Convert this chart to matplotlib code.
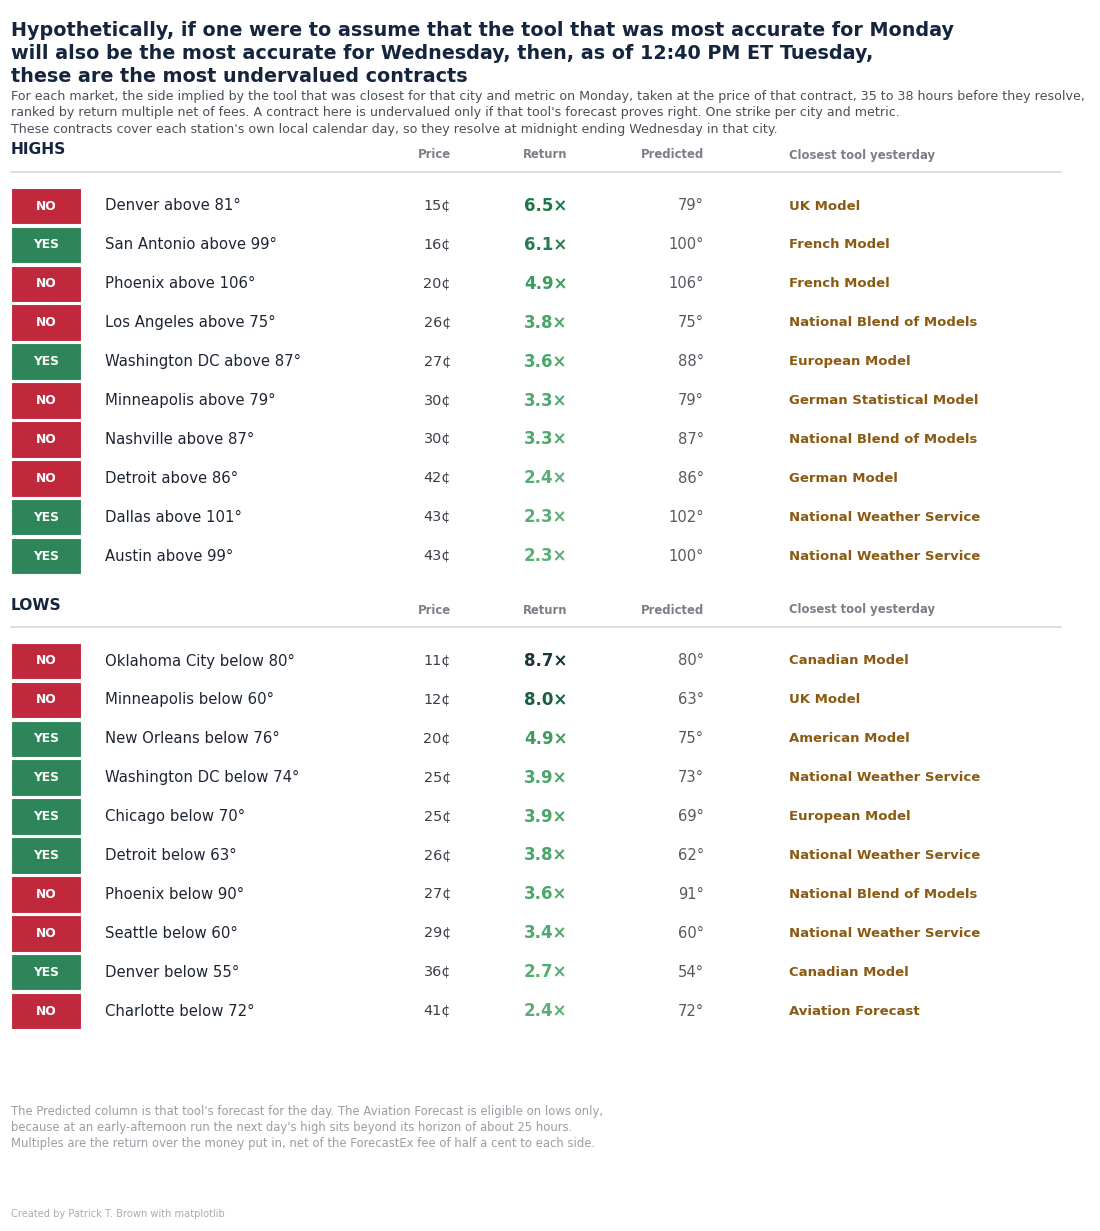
import matplotlib
matplotlib.use("Agg")
import matplotlib.pyplot as plt
from matplotlib.colors import LinearSegmentedColormap, Normalize

# ---------------- data ----------------
high_sides = ["NO", "YES", "NO", "NO", "YES", "NO", "NO", "NO", "YES", "YES"]
high_markets = ["Denver above 81°", "San Antonio above 99°", "Phoenix above 106°",
                "Los Angeles above 75°", "Washington DC above 87°", "Minneapolis above 79°",
                "Nashville above 87°", "Detroit above 86°", "Dallas above 101°", "Austin above 99°"]
high_prices = [15, 16, 20, 26, 27, 30, 30, 42, 43, 43]
high_returns = [6.5, 6.1, 4.9, 3.8, 3.6, 3.3, 3.3, 2.4, 2.3, 2.3]
high_predicted = [79, 100, 106, 75, 88, 79, 87, 86, 102, 100]
high_tools = ["UK Model", "French Model", "French Model", "National Blend of Models",
              "European Model", "German Statistical Model", "National Blend of Models",
              "German Model", "National Weather Service", "National Weather Service"]

low_sides = ["NO", "NO", "YES", "YES", "YES", "YES", "NO", "NO", "YES", "NO"]
low_markets = ["Oklahoma City below 80°", "Minneapolis below 60°", "New Orleans below 76°",
               "Washington DC below 74°", "Chicago below 70°", "Detroit below 63°",
               "Phoenix below 90°", "Seattle below 60°", "Denver below 55°", "Charlotte below 72°"]
low_prices = [11, 12, 20, 25, 25, 26, 27, 29, 36, 41]
low_returns = [8.7, 8.0, 4.9, 3.9, 3.9, 3.8, 3.6, 3.4, 2.7, 2.4]
low_predicted = [80, 63, 75, 73, 69, 62, 91, 60, 54, 72]
low_tools = ["Canadian Model", "UK Model", "American Model", "National Weather Service",
             "European Model", "National Weather Service", "National Blend of Models",
             "National Weather Service", "Canadian Model", "Aviation Forecast"]

col_headers = ["Price", "Return", "Predicted", "Closest tool yesterday"]

title = ("Hypothetically, if one were to assume that the tool that was most accurate for Monday\n"
         "will also be the most accurate for Wednesday, then, as of 12:40 PM ET Tuesday,\n"
         "these are the most undervalued contracts")
subtitle = ("For each market, the side implied by the tool that was closest for that city and metric on Monday, "
            "taken at the price of that contract, 35 to 38 hours before they resolve,\n"
            "ranked by return multiple net of fees. A contract here is undervalued only if that tool's "
            "forecast proves right. One strike per city and metric.\n"
            "These contracts cover each station's own local calendar day, so they resolve at midnight "
            "ending Wednesday in that city.")
footnote = ("The Predicted column is that tool's forecast for the day. The Aviation Forecast is eligible on lows only,\n"
            "because at an early-afternoon run the next day's high sits beyond its horizon of about 25 hours.\n"
            "Multiples are the return over the money put in, net of the ForecastEx fee of half a cent to each side.")
credit = "Created by Patrick T. Brown with matplotlib"

# ---------------- style ----------------
W, H = 1100, 1231
NAVY = "#15253d"
RED = "#c0283b"
GREEN = "#2e8559"
TOOL = "#8a5a12"
GREY_HDR = "#7a7f87"
ROW_PX = 38.9

ret_cmap = LinearSegmentedColormap.from_list(
    "ret", [(0.0, "#5cb077"), (0.35, "#45a265"), (0.5, "#36955a"),
            (0.62, "#1f7b47"), (0.85, "#1b6d40"), (1.0, "#17303a")])
ret_norm = Normalize(vmin=2.0, vmax=8.8)

fig = plt.figure(figsize=(W / 100, H / 100), dpi=100)
fig.patch.set_facecolor("white")


def fy(px):
    return 1 - px / H


def fx(px):
    return px / W


fig.text(fx(11), fy(21), title, fontsize=13.8, fontweight="bold", color=NAVY,
         va="top", ha="left", linespacing=1.26)
fig.text(fx(11), fy(90), subtitle, fontsize=9.1, color="#4a4f57",
         va="top", ha="left", linespacing=1.34)
fig.text(fx(11), fy(1105), footnote, fontsize=8.35, color="#9a9ea4",
         va="top", ha="left", linespacing=1.3)
fig.text(fx(11), fy(1209), credit, fontsize=7.15, color="#a8acb2",
         va="top", ha="left")


def draw_table(top_px, label, sides, markets, prices, returns, predicted, tools):
    # section label and header row
    fig.text(fx(11), fy(top_px), label, fontsize=11.2, fontweight="bold",
             color=NAVY, va="center", ha="left")
    hdr_y = fy(top_px + 5)
    hs = 8.4
    fig.text(fx(451), hdr_y, col_headers[0], fontsize=hs, fontweight="bold",
             color=GREY_HDR, ha="right", va="center")
    fig.text(fx(523), hdr_y, col_headers[1], fontsize=hs, fontweight="bold",
             color=GREY_HDR, ha="left", va="center")
    fig.text(fx(704), hdr_y, col_headers[2], fontsize=hs, fontweight="bold",
             color=GREY_HDR, ha="right", va="center")
    fig.text(fx(789), hdr_y, col_headers[3], fontsize=hs, fontweight="bold",
             color=GREY_HDR, ha="left", va="center")
    line_y = fy(top_px + 22)
    fig.add_artist(plt.Line2D([fx(11), fx(1061)], [line_y, line_y],
                              color="#d5d8dc", lw=1.2))

    n = len(markets)
    first_center = top_px + 56
    ax_top = first_center - ROW_PX / 2
    ax_h = ROW_PX * n
    ax = fig.add_axes([0, fy(ax_top + ax_h), 1, ax_h / H])
    ax.set_xlim(0, W)
    ax.set_ylim(n - 0.5, -0.5)
    ax.axis("off")
    rows = list(range(n))
    colors = [RED if s == "NO" else GREEN for s in sides]
    ax.barh(rows, [70] * n, left=11, height=0.94, color=colors,
            edgecolor="white", linewidth=0.8)
    for i in rows:
        ax.text(46, i, sides[i], fontsize=8.8, fontweight="bold", color="white",
                ha="center", va="center")
        ax.text(105, i, markets[i], fontsize=10.7, color="#1d2533",
                ha="left", va="center")
        ax.text(451, i, f"{prices[i]}¢", fontsize=10.4, color="#3a3f47",
                ha="right", va="center")
        ax.text(524, i, f"{returns[i]:.1f}×", fontsize=12, fontweight="bold",
                color=ret_cmap(ret_norm(returns[i])), ha="left", va="center")
        ax.text(704, i, f"{predicted[i]}°", fontsize=10.6, color="#555a62",
                ha="right", va="center")
        ax.text(789, i, tools[i], fontsize=9.5, fontweight="bold", color=TOOL,
                ha="left", va="center")


draw_table(150, "HIGHS", high_sides, high_markets, high_prices, high_returns,
           high_predicted, high_tools)
draw_table(605, "LOWS", low_sides, low_markets, low_prices, low_returns,
           low_predicted, low_tools)

fig.savefig("out.png", dpi=100, facecolor="white")
